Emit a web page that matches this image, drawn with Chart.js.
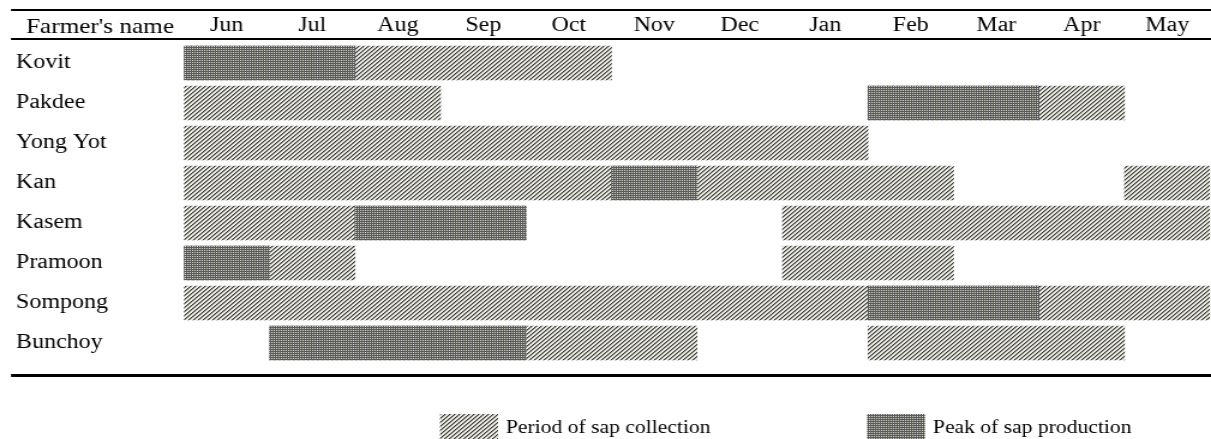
<!DOCTYPE html>
<html>
<head>
<meta charset="utf-8">
<script src="https://cdn.jsdelivr.net/npm/chart.js@4.4.0/dist/chart.umd.min.js"></script>
<style>
  body { margin: 0; background: #fff; overflow: hidden; }
  /* the source figure is stretched sideways, so the chart is too */
  #wrap { width: 1009px; height: 439px; transform: scaleX(1.2002); transform-origin: 0 0; }
</style>
</head>
<body>
<div id="wrap"><canvas id="sap-chart"></canvas></div>
<script>
// farmers (rows) and months (columns, Jun -> May)
const farmers = ["Kovit", "Pakdee", "Yong Yot", "Kan", "Kasem", "Pramoon", "Sompong", "Bunchoy"];
const months = ["Jun", "Jul", "Aug", "Sep", "Oct", "Nov", "Dec", "Jan", "Feb", "Mar", "Apr", "May"];

// ranges in months, 0 = start of Jun, 12 = end of May
const collectionA = [[0, 5], [0, 3], [0, 8], [0, 9], [0, 4], [0, 2], [0, 12], [1, 6]];
const collectionB = [null, [8, 11], null, [11, 12], [7, 12], [7, 9], null, [8, 11]];
const peak = [[0, 2], [8, 10], null, [5, 6], [2, 4], [0, 1], [8, 10], [1, 4]];

const legendNames = ["Period of sap collection", "Peak of sap production"];

const FONT = "'Liberation Serif', 'Times New Roman', serif";
const S = 1.2002; // horizontal stretch of the page

// diagonal hatch for collection period
function stripePattern() {
    const c = document.createElement("canvas");
    c.width = 4; c.height = 4;
    const g = c.getContext("2d");
    const cols = ["#3a3a3a", "#9a9a94", "#eeeee6", "#e6e6de"];
    for (let y = 0; y < 4; y++) {
        for (let x = 0; x < 4; x++) {
            g.fillStyle = cols[(x + y) % 4];
            g.fillRect(x, y, 1, 1);
        }
    }
    return g.createPattern(c, "repeat");
}

// dotted dark fill for peak production
function dotPattern() {
    const c = document.createElement("canvas");
    c.width = 2; c.height = 2;
    const g = c.getContext("2d");
    g.fillStyle = "#5a5a5a";
    g.fillRect(0, 0, 2, 2);
    g.fillStyle = "#d2d2ca";
    g.fillRect(0, 0, 1, 1);
    return g.createPattern(c, "repeat");
}

const hatch = stripePattern();
const dots = dotPattern();

// lines of the table, header text and the legend
const tablePlugin = {
    id: "tablePlugin",
    afterDraw(chart) {
        const ctx = chart.ctx;
        const a = chart.chartArea;
        const x0 = 11 / S;
        const x1 = chart.width;
        ctx.save();
        ctx.strokeStyle = "#000";

        ctx.lineWidth = 2;
        ctx.beginPath();
        ctx.moveTo(x0, 10); ctx.lineTo(x1, 10);
        ctx.moveTo(x0, a.top - 4); ctx.lineTo(x1, a.top - 4);
        ctx.stroke();

        ctx.lineWidth = 3;
        ctx.beginPath();
        ctx.moveTo(x0, a.bottom + 12.5); ctx.lineTo(x1, a.bottom + 12.5);
        ctx.stroke();

        ctx.fillStyle = "#000";
        ctx.font = "21px " + FONT;
        ctx.textBaseline = "alphabetic";
        ctx.textAlign = "left";
        ctx.fillText("Farmer's name", 26 / S, 33);

        // legend
        const items = [
            { x: 440 / S, fill: hatch, text: legendNames[0] },
            { x: 867 / S, fill: dots, text: legendNames[1] }
        ];
        ctx.font = "18px " + FONT;
        items.forEach(it => {
            ctx.fillStyle = it.fill;
            ctx.fillRect(it.x, 414, 58 / S, 25);
            ctx.fillStyle = "#000";
            ctx.fillText(it.text, it.x + 66 / S, 433);
        });
        ctx.restore();
    }
};

const ctx = document.getElementById("sap-chart").getContext("2d");

new Chart(ctx, {
    type: "bar",
    data: {
        labels: farmers,
        datasets: [
            {
                label: legendNames[1],
                data: peak,
                backgroundColor: dots,
                order: 0
            },
            {
                label: legendNames[0],
                data: collectionA,
                backgroundColor: hatch,
                order: 1
            },
            {
                label: legendNames[0],
                data: collectionB,
                backgroundColor: hatch,
                order: 1
            }
        ]
    },
    plugins: [tablePlugin],
    options: {
        indexAxis: "y",
        responsive: true,
        maintainAspectRatio: false,
        animation: false,
        layout: { padding: { left: 16 / S, right: 1 / S, top: 0, bottom: 76 } },
        datasets: {
            bar: { grouped: false, barThickness: 34, borderWidth: 0 }
        },
        scales: {
            x: {
                type: "linear",
                min: 0,
                max: 12,
                display: false
            },
            x2: {
                type: "category",
                axis: "x",
                position: "top",
                labels: months,
                offset: true,
                grid: { display: false, drawTicks: false },
                border: { display: false },
                ticks: {
                    color: "#000",
                    padding: 5,
                    maxRotation: 0,
                    autoSkip: false,
                    font: { family: FONT, size: 20 }
                },
                afterFit(scale) { scale.height = 43; }
            },
            y: {
                type: "category",
                offset: true,
                grid: { display: false, drawTicks: false },
                border: { display: false },
                ticks: {
                    color: "#000",
                    crossAlign: "far",
                    padding: 0,
                    font: { family: FONT, size: 20 }
                },
                afterFit(scale) { scale.width = 168 / S; }
            }
        },
        plugins: {
            legend: { display: false },
            tooltip: { enabled: false },
            title: { display: false }
        }
    }
});
</script>
</body>
</html>
